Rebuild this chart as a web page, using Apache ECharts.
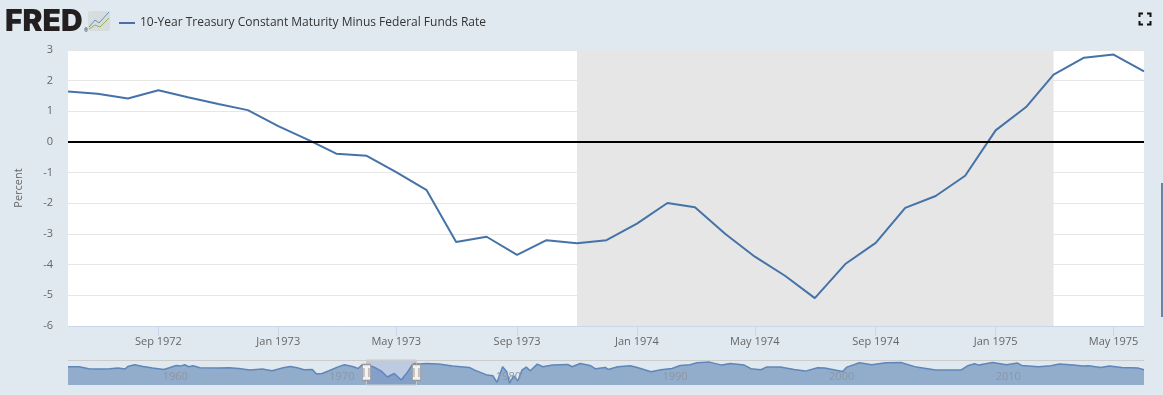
<!DOCTYPE html>
<html>
<head>
<meta charset="utf-8">
<title>10-Year Treasury Constant Maturity Minus Federal Funds Rate</title>
<style>
  html, body { margin: 0; padding: 0; background: #e1e9f0; }
  #chart { width: 1163px; height: 395px; }
</style>
<script src="https://cdn.jsdelivr.net/npm/echarts@6/dist/echarts.min.js"></script>
</head>
<body>
<div id="chart"></div>
<script>
var seriesName = '10-Year Treasury Constant Maturity Minus Federal Funds Rate';

// monthly values
var months = [
  '1972-06-01', '1972-07-01', '1972-08-01', '1972-09-01', '1972-10-01', '1972-11-01', '1972-12-01',
  '1973-01-01', '1973-02-01', '1973-03-01', '1973-04-01', '1973-05-01', '1973-06-01', '1973-07-01',
  '1973-08-01', '1973-09-01', '1973-10-01', '1973-11-01', '1973-12-01',
  '1974-01-01', '1974-02-01', '1974-03-01', '1974-04-01', '1974-05-01', '1974-06-01', '1974-07-01',
  '1974-08-01', '1974-09-01', '1974-10-01', '1974-11-01', '1974-12-01',
  '1975-01-01', '1975-02-01', '1975-03-01', '1975-04-01', '1975-05-01', '1975-06-01'
];
var spread = [
  1.65, 1.57, 1.42, 1.69, 1.46, 1.24, 1.04,
  0.52, 0.06, -0.38, -0.45, -0.98, -1.57, -3.26,
  -3.09, -3.68, -3.2, -3.3, -3.2,
  -2.66, -1.99, -2.13, -3.0, -3.74, -4.37, -5.09,
  -3.98, -3.29, -2.15, -1.76, -1.1,
  0.38, 1.14, 2.2, 2.75, 2.85, 2.3
];

var recession = ['1973-11-01', '1975-03-01'];
var rangeStart = '1972-06-01';
var rangeEnd = '1975-06-01';
var monthTicks = [
  '1972-09-01', '1973-01-01', '1973-05-01', '1973-09-01', '1974-01-01',
  '1974-05-01', '1974-09-01', '1975-01-01', '1975-05-01'
];

// navigator: the whole history
var navDates = [
  '1954-07', '1955-03', '1955-10', '1956-06', '1957-01', '1957-07', '1957-12', '1958-02', '1958-07',
  '1959-01', '1959-08', '1960-04', '1961-01', '1961-04', '1961-07', '1961-10', '1962-01', '1962-06',
  '1963-08', '1964-03', '1964-10', '1965-06', '1966-03', '1966-10', '1967-06', '1967-11', '1968-04',
  '1968-09', '1969-03', '1969-06', '1969-10', '1970-03', '1970-09', '1971-02', '1971-08', '1971-12',
  '1972-03', '1972-06', '1972-09', '1973-01', '1973-05', '1973-09', '1974-02', '1974-07', '1974-11',
  '1975-03', '1975-05', '1975-08', '1976-01', '1976-10', '1977-08', '1978-08', '1978-12', '1979-09',
  '1980-01', '1980-04', '1980-08', '1980-11', '1981-01', '1981-04', '1981-07', '1981-10', '1982-01',
  '1982-04', '1982-09', '1983-01', '1983-08', '1984-07', '1984-10', '1985-04', '1985-11', '1986-03',
  '1986-10', '1986-12', '1987-07', '1988-04', '1988-09', '1989-07', '1990-02', '1990-10', '1991-04',
  '1991-11', '1992-04', '1993-01', '1993-10', '1994-04', '1995-02', '1995-07', '1996-02', '1996-06',
  '1997-04', '1998-02', '1998-10', '1999-07', '1999-12', '2001-01', '2001-04', '2002-01', '2002-10',
  '2003-08', '2004-07', '2005-06', '2006-08', '2008-02', '2008-07', '2008-12', '2009-03', '2010-01',
  '2010-11', '2011-07', '2011-10', '2012-10', '2013-07', '2014-01', '2014-11', '2015-06', '2015-10',
  '2016-07', '2017-01', '2017-10', '2018-10', '2019-02'
];
var navValues = [
  1.25, 1.25, 0.29, 0.13, 0.29, 0.61, 0.13, 1.41, 2.21,
  1.41, 0.61, -0.03, 1.89, 1.57, 2.21, 1.25, 1.73, 0.77,
  0.61, 0.77, 0.45, -0.35, 0.13, -0.67, 0.77, 1.41, 0.77,
  -0.19, -0.03, -2.27, -1.95, -0.67, 1.09, 2.21, 1.41, 0.45,
  2.37, 1.65, 1.69, 0.52, -0.98, -3.68, -1.99, -5.09, -1.76,
  2.2, 2.85, 2.53, 2.85, 2.53, 1.57, 0.93, -0.35, -2.75,
  -3.07, -6.27, 1.25, -1.15, -6.6, -3.07, -5.6, -0.35, 1.09,
  -0.67, 2.53, 1.25, 2.05, 2.37, 1.25, 2.85, 1.89, 0.29,
  0.93, -0.03, 1.25, 1.73, 0.93, -1.15, -0.19, 0.45, 1.89,
  2.21, 3.17, 3.49, 2.05, 2.85, 2.05, 0.29, -0.19, 1.09,
  1.09, -0.03, -0.83, 0.77, 0.61, -1.0, 1.09, 3.17, 2.21,
  3.17, 3.33, 1.09, -0.35, -0.35, 1.73, 2.69, 2.05, 3.33,
  2.21, 3.01, 1.89, 1.25, 1.73, 2.53, 2.05, 1.57, 1.73,
  0.93, 1.57, 0.93, 0.61, -0.19
];
var navStart = '1954-07-01';
var navEnd = '2019-02-01';
var navMin = -7.5;
var navMax = 4.5;
var navYears = ['1960-01-01', '1970-01-01', '1980-01-01', '1990-01-01', '2000-01-01', '2010-01-01'];

var labelFont = '"Open Sans", sans-serif';
var myChart = echarts.init(document.getElementById('chart'));

var option = {
  animation: false,
  backgroundColor: '#e1e9f0',
  textStyle: { fontFamily: labelFont },
  tooltip: { trigger: 'axis' },
  legend: {
    left: 114,
    top: 12,
    icon: 'rect',
    itemWidth: 16,
    itemHeight: 2,
    data: [seriesName],
    textStyle: { fontFamily: labelFont, fontSize: 12, color: '#333' }
  },
  grid: [
    { left: 68, right: 19, top: 50, height: 276, show: true, backgroundColor: '#fff', borderWidth: 0 },
    { left: 68, right: 19, top: 360, height: 25 }
  ],
  xAxis: [
    {
      type: 'time',
      gridIndex: 0,
      min: rangeStart,
      max: rangeEnd,
      axisLine: { show: true, onZero: false, lineStyle: { color: '#ccd6eb' } },
      axisTick: { show: true, length: 10, lineStyle: { color: '#ccd6eb' }, customValues: monthTicks },
      splitLine: { show: false },
      axisLabel: {
        color: '#666',
        fontSize: 11,
        margin: 10,
        hideOverlap: false,
        customValues: monthTicks,
        formatter: '{MMM} {yyyy}'
      }
    },
    {
      type: 'time',
      gridIndex: 1,
      min: navStart,
      max: navEnd,
      z: 3,
      axisLine: { show: false, onZero: false },
      axisTick: { show: false },
      splitLine: { show: false },
      axisLabel: {
        inside: true,
        color: '#8c97a4',
        fontSize: 11,
        margin: 3,
        align: 'left',
        padding: [0, 0, 0, 3],
        customValues: navYears,
        formatter: '{yyyy}'
      }
    }
  ],
  yAxis: [
    {
      type: 'value',
      gridIndex: 0,
      min: -6,
      max: 3,
      interval: 1,
      name: 'Percent',
      nameLocation: 'middle',
      nameGap: 44,
      nameTextStyle: { color: '#666', fontSize: 11 },
      axisLine: { show: false },
      axisTick: { show: false },
      splitLine: { lineStyle: { color: '#e6e6e6' } },
      axisLabel: { color: '#666', fontSize: 11, margin: 15 }
    },
    {
      type: 'value',
      gridIndex: 1,
      min: navMin,
      max: navMax,
      show: false
    }
  ],
  series: [
    {
      name: seriesName,
      type: 'line',
      xAxisIndex: 0,
      yAxisIndex: 0,
      showSymbol: false,
      z: 3,
      color: '#4572a7',
      lineStyle: { color: '#4572a7', width: 2 },
      data: months.map(function (m, i) { return [m, spread[i]]; }),
      markArea: {
        silent: true,
        z: 1,
        itemStyle: { color: '#e6e6e6' },
        data: [[{ xAxis: recession[0] }, { xAxis: recession[1] }]]
      },
      markLine: {
        silent: true,
        symbol: 'none',
        label: { show: false },
        lineStyle: { color: '#000', width: 2, type: 'solid' },
        data: [{ yAxis: 0 }]
      }
    },
    {
      name: 'navigator',
      type: 'line',
      xAxisIndex: 1,
      yAxisIndex: 1,
      showSymbol: false,
      z: 1,
      color: '#5f86b8',
      lineStyle: { color: '#5f86b8', width: 1.5 },
      areaStyle: { color: '#92accb', opacity: 1, origin: 'start' },
      data: navDates.map(function (d, i) { return [d, navValues[i]]; }),
      markArea: {
        silent: true,
        z: 4,
        itemStyle: { color: 'rgba(102,133,194,0.3)', borderColor: '#c8ccd2', borderWidth: 1 },
        data: [[{ xAxis: rangeStart }, { xAxis: rangeEnd }]]
      },
      markLine: {
        silent: true,
        z: 4,
        symbol: 'none',
        label: { show: false },
        lineStyle: { color: '#cccccc', width: 1, type: 'solid' },
        data: [{ yAxis: navMax }]
      },
      markPoint: {
        silent: true,
        z: 6,
        symbol: 'rect',
        symbolSize: [8, 16],
        itemStyle: { color: '#f2f2f2', borderColor: '#999', borderWidth: 1 },
        label: { show: true, formatter: '||', color: '#666', fontSize: 9, position: 'inside' },
        data: [
          { coord: [rangeStart, (navMin + navMax) / 2] },
          { coord: [rangeEnd, (navMin + navMax) / 2] }
        ]
      }
    }
  ],
  graphic: [
    // FRED logo
    { type: 'text', left: 5, top: 7, style: { text: 'FRED', fontFamily: 'Inter, sans-serif', fontWeight: 900, fontSize: 30, fill: '#231f20' } },
    { type: 'text', left: 84, top: 28, style: { text: '®', fontFamily: labelFont, fontSize: 5, fill: '#231f20' } },
    { type: 'rect', shape: { x: 88, y: 11, width: 22, height: 20, r: 2 }, style: { fill: '#d7dcdd' } },
    { type: 'polyline', shape: { points: [[89, 27], [95, 20], [99, 23], [109, 12]] }, style: { stroke: '#6c8ebf', fill: null, lineWidth: 1 } },
    { type: 'polyline', shape: { points: [[89, 29], [95, 25], [100, 27], [109, 18]] }, style: { stroke: '#8fb35a', fill: null, lineWidth: 1 } },
    // fullscreen icon
    { type: 'polyline', shape: { points: [[1139.5, 17], [1139.5, 13.5], [1143, 13.5]] }, style: { stroke: '#111', fill: null, lineWidth: 2 } },
    { type: 'polyline', shape: { points: [[1147, 13.5], [1150.5, 13.5], [1150.5, 17]] }, style: { stroke: '#111', fill: null, lineWidth: 2 } },
    { type: 'polyline', shape: { points: [[1139.5, 21], [1139.5, 24.5], [1143, 24.5]] }, style: { stroke: '#111', fill: null, lineWidth: 2 } },
    { type: 'polyline', shape: { points: [[1147, 24.5], [1150.5, 24.5], [1150.5, 21]] }, style: { stroke: '#111', fill: null, lineWidth: 2 } },
    // page scrollbar sliver on the right edge
    { type: 'rect', shape: { x: 1161, y: 183, width: 2, height: 134 }, style: { fill: '#6d82a3' } }
  ]
};

myChart.setOption(option);
</script>
</body>
</html>
